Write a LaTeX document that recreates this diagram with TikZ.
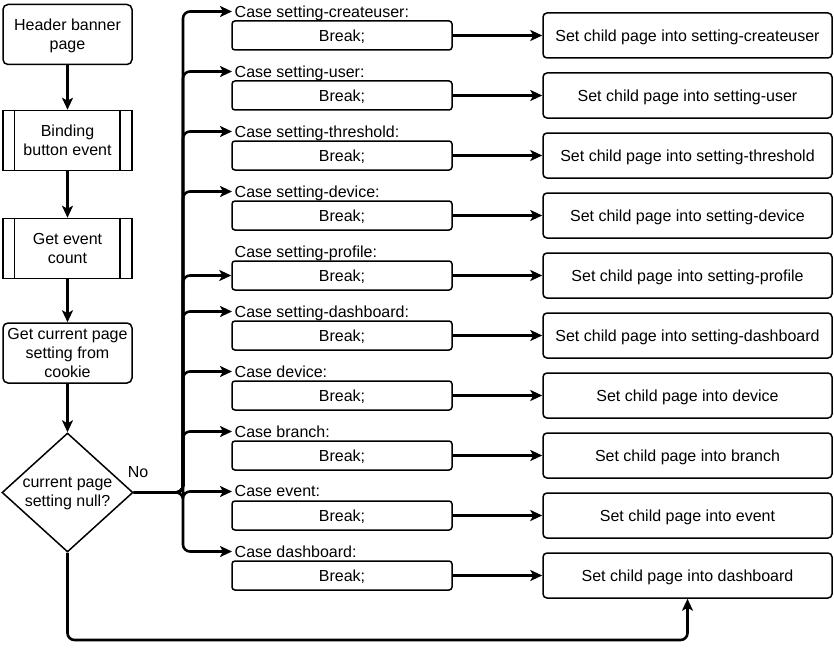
\documentclass[tikz,border=0pt]{standalone}
\usepackage{fontspec}
\setmainfont{Liberation Sans}
\usetikzlibrary{arrows.meta,shapes.geometric,calc}
\begin{document}
\begin{tikzpicture}[x=1pt,y=-1pt,
  every node/.style={font=\fontsize{16}{19}\selectfont,text depth=0.5pt},
  box/.style={draw,line width=1.5pt,rounded corners=5pt,minimum width=129pt,minimum height=60pt,align=center,inner sep=1pt},
  procbox/.style={draw,line width=1.5pt,minimum width=129pt,minimum height=60pt,align=center,inner sep=1pt},
  breakbox/.style={draw,line width=1.5pt,rounded corners=3pt,minimum width=220pt,minimum height=29pt,inner sep=0pt},
  setbox/.style={draw,line width=1.5pt,rounded corners=4pt,minimum width=289pt,minimum height=45pt,inner sep=0pt},
  caselbl/.style={anchor=west,inner sep=2.5pt},
  conn/.style={line width=2.6pt,-{Stealth[length=12pt,width=11pt,inset=3pt]},rounded corners=7pt},
  thin/.style={line width=1.5pt}
]
\useasboundingbox (0,0) rectangle (834,650);

% left column
\node[box] (h1) at (67.5,34.5) {Header banner\\page};
\node[procbox] (h2) at (67.5,140.5) {Binding\\button event};
\node[procbox] (h3) at (67.5,248.5) {Get event\\count};
\node[box] (h4) at (67.5,353) {Get current page\\setting from\\cookie};
\node[diamond,draw,line width=1.5pt,minimum width=131pt,minimum height=119pt,inner sep=0pt] (d) at (67.5,492.5) {};
\node[align=center] (dt) at (d.center) {current page\\setting null?};
\node (no) at (138,472) {No};

\draw[thin] ($(h2.north west)+(12,0)$) -- ($(h2.south west)+(12,0)$);
\draw[thin] ($(h2.north east)+(-13,0)$) -- ($(h2.south east)+(-13,0)$);
\draw[thin] ($(h3.north west)+(12,0)$) -- ($(h3.south west)+(12,0)$);
\draw[thin] ($(h3.north east)+(-13,0)$) -- ($(h3.south east)+(-13,0)$);

\draw[conn] (h1.south) -- (h2.north);
\draw[conn] (h2.south) -- (h3.north);
\draw[conn] (h3.south) -- (h4.north);
\draw[conn] (h4.south) -- (d.north);

% cases
\foreach \i/\lab/\tgt [count=\k from 0] in {
  1/setting-createuser/setting-createuser,
  2/setting-user/setting-user,
  3/setting-threshold/setting-threshold,
  4/setting-device/setting-device,
  5/setting-profile/setting-profile,
  6/setting-dashboard/setting-dashboard,
  7/device/device,
  8/branch/branch,
  9/event/event,
  10/dashboard/dashboard} {
  \node[caselbl] (c\i) at (232,{11.5+60*\k}) {Case \lab:};
  \node[breakbox] (b\i) at (342,{35.5+60*\k}) {Break;};
  \node[setbox] (r\i) at (687.5,{35.5+60*\k}) {Set child page into \tgt};
  \draw[conn] (b\i.east) -- (r\i.west);
}

\coordinate (j) at (183,492.5);
\foreach \i in {1,2,3,4,6,7,8,9,10} {
  \draw[conn] (d.east) -- (j) |- (c\i.west);
}
\draw[conn] (d.east) -- (j) |- (b5.west);

% bottom return
\coordinate (lb) at (67.5,640);
\draw[conn] (d.south) -- (lb) -| (r10.south);
\end{tikzpicture}
\end{document}
